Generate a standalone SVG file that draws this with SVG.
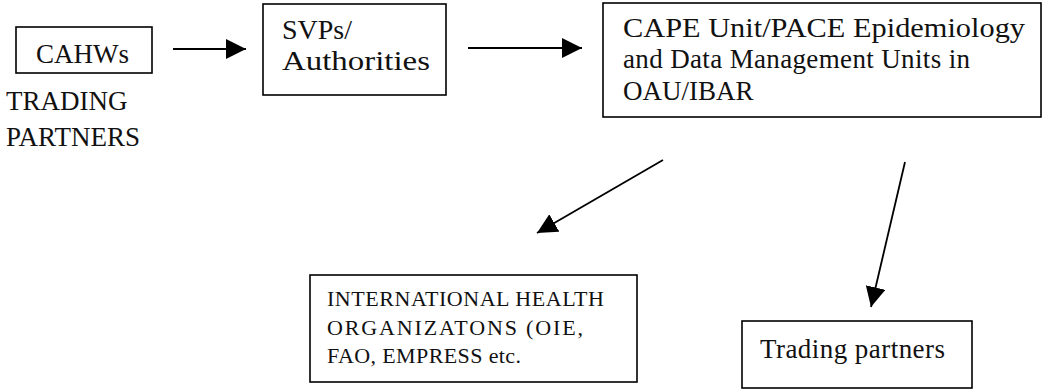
<svg xmlns="http://www.w3.org/2000/svg" width="1044" height="392" viewBox="0 0 1044 392">
<style>
.box{fill:#fff;stroke:#000;stroke-width:1.6}
.t{font-family:"Liberation Serif","Times New Roman",serif;font-size:27px;fill:#111}
.s{font-family:"Liberation Serif","Times New Roman",serif;font-size:22px;fill:#111}
.c{stroke:#000;stroke-width:1.8;fill:none;marker-end:url(#ah)}
</style>
<defs>
<marker id="ah" markerUnits="userSpaceOnUse" markerWidth="22" markerHeight="22" refX="20" refY="10" orient="auto" viewBox="0 0 22 22">
<path d="M0,0 L20,10 L0,20 z" fill="#000"/>
</marker>
</defs>
<rect width="1044" height="392" fill="#fff"/>
<g id="cahws">
<rect class="box" x="16" y="27" width="136" height="46"/>
<text class="t" x="36" y="63">CAHWs</text>
</g>
<g id="trading-label">
<text class="t" x="6" y="110">TRADING</text>
<text class="t" x="6" y="146">PARTNERS</text>
</g>
<g id="svps">
<rect class="box" x="263" y="4" width="183" height="91"/>
<text class="t" x="282" y="39" textLength="70" lengthAdjust="spacingAndGlyphs">SVPs/</text>
<text class="t" x="282" y="70" textLength="148" lengthAdjust="spacingAndGlyphs">Authorities</text>
</g>
<g id="cape">
<rect class="box" x="603" y="3" width="438" height="114"/>
<text class="t" x="623" y="37" textLength="402" lengthAdjust="spacingAndGlyphs">CAPE Unit/PACE Epidemiology</text>
<text class="t" x="623" y="68" textLength="347" lengthAdjust="spacing">and Data Management Units in</text>
<text class="t" x="623" y="100">OAU/IBAR</text>
</g>
<g id="international">
<rect class="box" x="310" y="275" width="327" height="107"/>
<text class="s" x="327" y="306" textLength="277" lengthAdjust="spacing">INTERNATIONAL HEALTH</text>
<text class="s" x="327" y="335" textLength="256" lengthAdjust="spacing">ORGANIZATONS (OIE,</text>
<text class="s" x="327" y="363" textLength="194" lengthAdjust="spacing">FAO, EMPRESS etc.</text>
</g>
<g id="trading-partners">
<rect class="box" x="742" y="321" width="230" height="67"/>
<text class="t" x="760" y="358" textLength="185" lengthAdjust="spacing">Trading partners</text>
</g>
<g id="connectors">
<line class="c" x1="173" y1="49" x2="246" y2="49"/>
<line class="c" x1="468" y1="48" x2="582" y2="48"/>
<line class="c" x1="663" y1="160" x2="537" y2="233"/>
<line class="c" x1="905" y1="162" x2="871" y2="307"/>
</g>
</svg>
